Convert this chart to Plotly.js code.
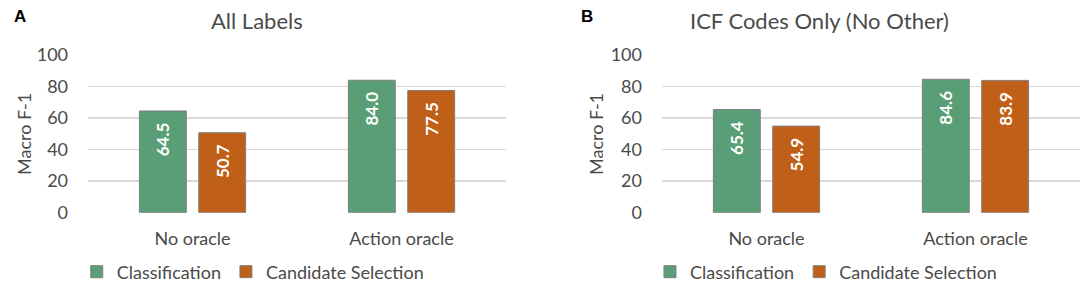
<!DOCTYPE html>
<html>
<head>
<meta charset="utf-8">
<script src="https://cdn.plot.ly/plotly-3.0.1.min.js"></script>
<style>html,body{margin:0;padding:0;background:#fff;}#chart{width:1084px;height:286px;}</style>
</head>
<body>
<div id="chart"></div>
<script>
// ---- data ----
var categories = ["No oracle", "Action oracle"];
var seriesNames = ["Classification", "Candidate Selection"];
var allLabelsClassification = [64.5, 84.0];
var allLabelsCandidate = [50.7, 77.5];
var icfClassification = [65.4, 84.6];
var icfCandidate = [54.9, 83.9];
var yTicks = [0, 20, 40, 60, 80, 100];
var panelTitles = ["All Labels", "ICF Codes Only (No Other)"];
var panelLetters = ["A", "B"];
var yTitle = "Macro F-1";

var FONT = "Lato, 'Open Sans', sans-serif";
var TXT = "#4a4a4a";
var GREEN = "#5a9e77";
var ORANGE = "#c05f17";
var NB = "\u00a0\u00a0";

function bar(name, vals, color, xa, ya, leg) {
  return {
    type: "bar", name: name, x: categories, y: vals,
    xaxis: xa, yaxis: ya, legend: leg, showlegend: true,
    marker: {color: color, line: {color: "#7f7f7f", width: 1}},
    text: vals.map(function (v) { return "<b>" + v.toFixed(1) + "</b>" + NB; }),
    textposition: "inside", insidetextanchor: "end", textangle: -90,
    textfont: {color: "#ffffff", size: 17, family: FONT},
    hoverinfo: "skip"
  };
}

var traces = [
  bar(seriesNames[0], allLabelsClassification, GREEN, "x", "y", "legend"),
  bar(seriesNames[1], allLabelsCandidate, ORANGE, "x", "y", "legend"),
  bar(seriesNames[0], icfClassification, GREEN, "x2", "y2", "legend2"),
  bar(seriesNames[1], icfCandidate, ORANGE, "x2", "y2", "legend2")
];

function xax(domain, anchor) {
  return {domain: domain, anchor: anchor, showgrid: false, zeroline: false, showline: false,
    ticks: "", ticklabelstandoff: 13, tickfont: {size: 18, color: TXT, family: FONT},
    fixedrange: true};
}
function yax(anchor) {
  return {domain: [0.2563, 0.8077], anchor: anchor, range: [0, 100], tickvals: yTicks,
    showgrid: true, gridcolor: "#d9d9d9", gridwidth: 1.5, zeroline: false, showline: false,
    ticks: "", ticklabelstandoff: 19, tickfont: {size: 18, color: TXT, family: FONT},
    fixedrange: true};
}

function legend(xl) {
  return {orientation: "h", x: xl, xanchor: "left", y: 0.049, yanchor: "middle",
    font: {size: 18, color: TXT, family: FONT}, bgcolor: "rgba(0,0,0,0)",
    itemclick: false, itemdoubleclick: false, traceorder: "normal"};
}

function ann(text, x, y, opts) {
  var a = {text: text, x: x, y: y, xref: "paper", yref: "paper", showarrow: false,
    xanchor: "center", yanchor: "middle", font: {size: 18, color: TXT, family: FONT}};
  for (var k in opts) a[k] = opts[k];
  return a;
}

var layout = {
  width: 1084, height: 286,
  margin: {l: 0, r: 0, t: 0, b: 0, autoexpand: false},
  paper_bgcolor: "#ffffff", plot_bgcolor: "#ffffff",
  barmode: "group", bargap: 0.432, bargroupgap: 0.21,
  xaxis: xax([0.0812, 0.4668], "y"),
  yaxis: yax("x"),
  xaxis2: xax([0.6107, 0.9963], "y2"),
  yaxis2: yax("x2"),
  legend: legend(0.0708),
  legend2: legend(0.5996),
  annotations: [
    ann(panelTitles[0], 0.2375, 0.9266, {font: {size: 22, color: TXT, family: FONT}}),
    ann(panelTitles[1], 0.756, 0.9266, {font: {size: 22, color: TXT, family: FONT}}),
    ann(yTitle, 0.0221, 0.5315, {textangle: -90}),
    ann(yTitle, 0.5498, 0.5315, {textangle: -90}),
    ann("<b>" + panelLetters[0] + "</b>", 0.0189, 0.944, {font: {size: 17, color: "#000", family: "Liberation Sans, Arial, sans-serif"}}),
    ann("<b>" + panelLetters[1] + "</b>", 0.5415, 0.944, {font: {size: 17, color: "#000", family: "Liberation Sans, Arial, sans-serif"}})
  ]
};

Plotly.newPlot("chart", traces, layout, {displayModeBar: false, staticPlot: true});
</script>
</body>
</html>
